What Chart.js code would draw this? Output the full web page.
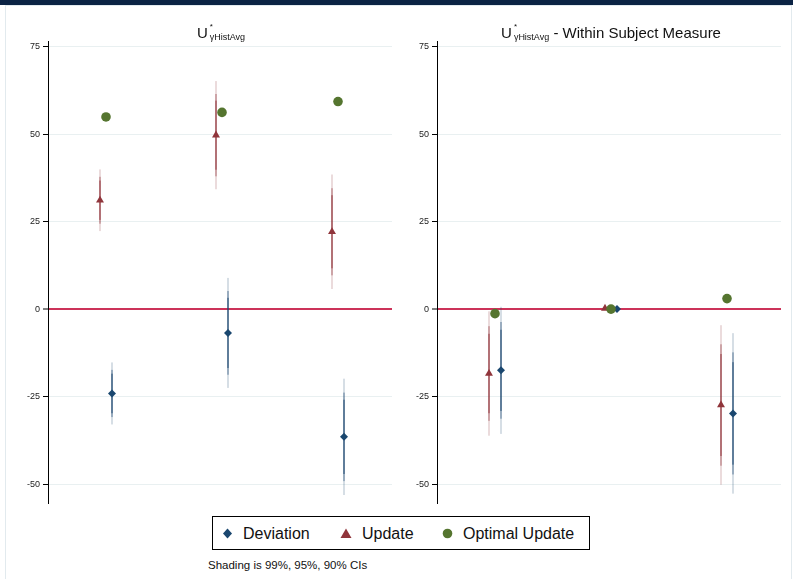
<!DOCTYPE html>
<html>
<head>
<meta charset="utf-8">
<script src="https://cdn.jsdelivr.net/npm/chart.js@4.4.1/dist/chart.umd.min.js"></script>
<style>
  html, body { margin: 0; padding: 0; background: #fff; }
  body { width: 793px; height: 579px; position: relative; overflow: hidden;
         font-family: "Liberation Sans", Arial, Helvetica, sans-serif; color: #111; }
  #topbar { position: absolute; left: 0; top: 0; width: 793px; height: 5px; background: #0b2344; }
  #frame { position: absolute; left: 5px; top: 5px; width: 787px; height: 600px;
           border: 1px solid #e2eaee; box-sizing: border-box; }
  .panel { position: absolute; top: 0; width: 400px; height: 512px; }
  .panel canvas { display: block; }
  .title { position: absolute; top: 25px; font-size: 15px; line-height: 15px; white-space: nowrap;
           transform: translateX(-50%); }
  .title .ss { display: inline-block; position: relative; margin-left: 2px; }
  .title .star { position: absolute; left: 0; top: -2px; font-size: 8px; line-height: 8px; }
  .title .sub { position: relative; top: 2px; font-size: 9px; line-height: 9px; }
  #legend { position: absolute; left: 212px; top: 516px; width: 378px; height: 34px;
            border: 1px solid #000; box-sizing: border-box; background: #fff; }
  .lg-sym { position: absolute; }
  .lg-txt { position: absolute; top: 9px; font-size: 16px; line-height: 16px; white-space: nowrap; }
  #note { position: absolute; left: 208px; top: 559px; font-size: 11.5px; line-height: 12px; white-space: nowrap; }
</style>
</head>
<body>
<div id="topbar"></div>
<div id="frame"></div>

<div class="panel" style="left:0px"><canvas id="levels" width="400" height="512"></canvas></div>
<div class="panel" style="left:389px"><canvas id="within" width="400" height="512"></canvas></div>

<div class="title" style="left:221px">U<span class="ss"><span class="star">*</span><span class="sub">γHistAvg</span></span></div>
<div class="title" style="left:611px">U<span class="ss"><span class="star">*</span><span class="sub">γHistAvg</span></span> - Within Subject Measure</div>

<div id="legend">
  <svg class="lg-sym" style="left:9px;top:11px" width="11" height="11" viewBox="0 0 11 11">
    <polygon points="5.5,0.5 10,5.5 5.5,10.5 1,5.5" fill="#1a476f"/></svg>
  <div class="lg-txt" style="left:30px">Deviation</div>
  <svg class="lg-sym" style="left:127px;top:11px" width="12" height="11" viewBox="0 0 12 11">
    <polygon points="6,0.5 11.5,10 0.5,10" fill="#90353b"/></svg>
  <div class="lg-txt" style="left:149px">Update</div>
  <svg class="lg-sym" style="left:229px;top:11px" width="11" height="11" viewBox="0 0 11 11">
    <circle cx="5.5" cy="5.5" r="4.8" fill="#55752f"/></svg>
  <div class="lg-txt" style="left:250px">Optimal Update</div>
</div>
<div id="note">Shading is 99%, 95%, 90% CIs</div>

<script>
// Three treatment groups sit at x = 1, 2, 3 on a hidden linear axis
const CATEGORIES = [1, 2, 3];
const Y_TICKS = [-50, -25, 0, 25, 50, 75];

// Panel 1: U*γHistAvg
const levelDeviation   = [-24.1, -6.8, -36.5];
const levelDeviationSE = [3.44, 6.1, 6.45];
const levelUpdate      = [31.1, 49.7, 22.1];
const levelUpdateSE    = [3.42, 6.0, 6.35];
const levelOptimal     = [54.9, 56.2, 59.3];

// Panel 2: U*γHistAvg - Within Subject Measure
const withinDeviation   = [-17.5, 0.0, -29.8];
const withinDeviationSE = [7.05, 0.0, 8.9];
const withinUpdate      = [-18.4, 0.2, -27.4];
const withinUpdateSE    = [6.9, 0.0, 8.85];
const withinOptimal     = [-1.3, 0.0, 3.0];

// Critical values for the 99%, 95% and 90% intervals
const Z99 = 2.576, Z95 = 1.96, Z90 = 1.645;

const NAVY = '26,71,111', MAROON = '144,53,59', GREEN = '85,117,47';
const GRID = '#e9f0f1', ZERO = '#cc3359';
const X_MIN = 0.5, X_MAX = 3.4655;
const SHIFT = 6 / 116; // horizontal dodge between series within a group

function markers(label, values, offset, rgb, style, radius, order) {
  return {
    type: 'scatter', label,
    data: values.map((v, i) => ({ x: CATEGORIES[i] + offset, y: v })),
    pointStyle: style, pointRadius: radius, pointHoverRadius: radius,
    backgroundColor: `rgb(${rgb})`, borderColor: `rgb(${rgb})`, borderWidth: 0,
    order
  };
}

function intervals(values, ses, offset, rgb) {
  const layers = [[Z99, 0.18, 3], [Z95, 0.33, 2], [Z90, 0.455, 1]];
  return layers.map(([z, alpha, order]) => ({
    type: 'bar',
    data: values.map((v, i) => ({ x: CATEGORIES[i] + offset, y: [v - z * ses[i], v + z * ses[i]] })),
    backgroundColor: `rgba(${rgb},${alpha})`,
    borderWidth: 0, inflateAmount: 0, barThickness: 2, grouped: false, order
  }));
}

function panel(canvasId, dev, devSE, upd, updSE, opt) {
  const datasets = [
    markers('Optimal Update', opt, 0, GREEN, 'circle', 4.8, -1),
    markers('Update', upd, -SHIFT, MAROON, 'triangle', 4.6, 0),
    markers('Deviation', dev, SHIFT, NAVY, 'rectRot', 4.0, 0),
    ...intervals(upd, updSE, -SHIFT, MAROON),
    ...intervals(dev, devSE, SHIFT, NAVY)
  ];
  return new Chart(document.getElementById(canvasId), {
    type: 'scatter',
    data: { datasets },
    options: {
      responsive: false, animation: false, devicePixelRatio: 1,
      events: [],
      layout: { padding: { left: 0, top: 41, right: 8, bottom: 9 } },
      plugins: { legend: { display: false }, tooltip: { enabled: false }, title: { display: false } },
      scales: {
        x: { type: 'linear', display: false, min: X_MIN, max: X_MAX, offset: false },
        y: {
          type: 'linear', min: -55.4, max: 76.6,
          afterFit: (scale) => { scale.width = 48; },
          afterBuildTicks: (scale) => { scale.ticks = Y_TICKS.map(v => ({ value: v })); },
          border: { display: true, color: '#000', width: 1 },
          grid: {
            color: (ctx) => (ctx.tick && ctx.tick.value === 0 ? ZERO : GRID),
            lineWidth: (ctx) => (ctx.tick && ctx.tick.value === 0 ? 2 : 1),
            drawTicks: true, tickLength: 5, tickColor: '#000', tickWidth: 1
          },
          ticks: {
            padding: 3, color: '#222',
            font: { family: '"Liberation Sans", Arial, sans-serif', size: 9 },
            callback: (v) => String(v)
          }
        }
      }
    }
  });
}

panel('levels', levelDeviation, levelDeviationSE, levelUpdate, levelUpdateSE, levelOptimal);
panel('within', withinDeviation, withinDeviationSE, withinUpdate, withinUpdateSE, withinOptimal);
</script>
</body>
</html>
